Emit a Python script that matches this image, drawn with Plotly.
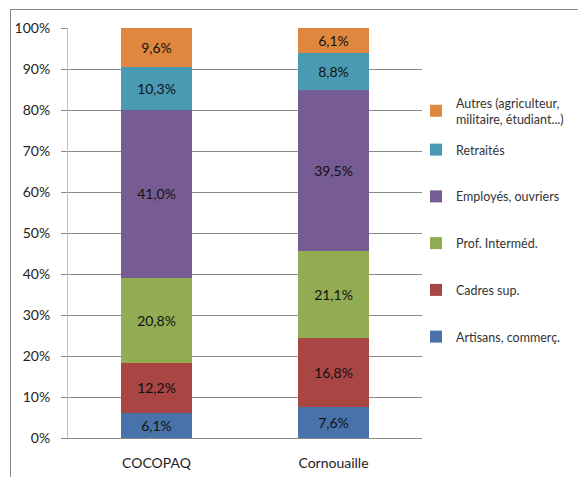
import plotly.graph_objects as go

# Socio-professional breakdown per territory (percent of population)
territories = ["COCOPAQ", "Cornouaille"]
categories = [
    "Artisans, commerç.",
    "Cadres sup.",
    "Prof. Interméd.",
    "Employés, ouvriers",
    "Retraités",
    "Autres (agriculteur,<br>militaire, étudiant...)",
]
cocopaq = [6.1, 12.2, 20.8, 41.0, 10.3, 9.6]
cornouaille = [7.6, 16.8, 21.1, 39.5, 8.8, 6.1]
colors = ["#4773AA", "#A94644", "#91AC53", "#765C92", "#4A9AB3", "#E0873F"]
y_ticks = [0, 10, 20, 30, 40, 50, 60, 70, 80, 90, 100]

FONT = "Lato, 'Open Sans', sans-serif"

fig = go.Figure()
n = len(categories)
for i, name in enumerate(categories):
    vals = [cocopaq[i], cornouaille[i]]
    labels = [f"{v:.1f}%".replace(".", ",") for v in vals]
    fig.add_trace(go.Bar(
        x=territories,
        y=vals,
        name=name,
        legendgroup=str(i),
        legendrank=100 * (n - i),  # top segment listed first
        # the two-line entry gets its own legend box so spacing stays even
        legend="legend" if i == n - 1 else "legend2",
        marker=dict(color=colors[i], line=dict(width=0)),
        text=labels,
        textposition="inside",
        insidetextanchor="middle",
        textangle=0,
        constraintext="none",
        textfont=dict(family=FONT, size=14, color="#111111"),
        hoverinfo="skip",
    ))

W, H = 578, 477
L, R, T, B = 68, 156, 28, 39
pw, ph = W - L - R, H - T - B


def px_x(x):
    return (x - L) / pw


def px_y(y):
    return 1 - (y - T) / ph


legend_style = dict(
    traceorder="grouped",
    x=px_x(416),
    xanchor="left",
    yanchor="top",
    font=dict(family=FONT, size=12.5, color="#333333"),
    bgcolor="rgba(0,0,0,0)",
    valign="middle",
)

fig.update_layout(
    width=W,
    height=H,
    margin=dict(l=L, r=R, t=T, b=B, autoexpand=False),
    paper_bgcolor="white",
    plot_bgcolor="white",
    barmode="stack",
    bargap=0.6,
    font=dict(family=FONT, size=13, color="#333333"),
    showlegend=True,
    legend=dict(legend_style, y=px_y(88)),
    legend2=dict(legend_style, y=px_y(135), tracegroupgap=27.5),
    xaxis=dict(
        automargin=False,
        showline=True,
        linecolor="#8a8a8a",
        linewidth=1,
        ticks="",
        ticklabelstandoff=12,
        tickfont=dict(family=FONT, size=14, color="#222222"),
        showgrid=False,
    ),
    yaxis=dict(
        automargin=False,
        range=[0, 100],
        tickvals=y_ticks,
        ticktext=[f"{v}%" for v in y_ticks],
        showgrid=True,
        gridcolor="#8a8a8a",
        gridwidth=1,
        showline=True,
        linecolor="#c0c0c0",
        linewidth=1,
        ticks="outside",
        ticklen=6,
        tickcolor="#8a8a8a",
        ticklabelstandoff=8,
        tickfont=dict(family=FONT, size=14, color="#222222"),
        zeroline=False,
    ),
    shapes=[
        # chart frame (top and left edges)
        dict(type="line", xref="paper", yref="paper",
             x0=px_x(10), x1=px_x(W + 5), y0=px_y(9.5), y1=px_y(9.5),
             line=dict(color="#8a8a8a", width=1)),
        dict(type="line", xref="paper", yref="paper",
             x0=px_x(10.5), x1=px_x(10.5), y0=px_y(9.5), y1=px_y(H + 5),
             line=dict(color="#8a8a8a", width=1)),
    ],
    annotations=[
        dict(text="<b>2011</b>", xref="paper", yref="paper",
             x=px_x(292), y=px_y(5), xanchor="center", yanchor="bottom",
             showarrow=False, font=dict(family=FONT, size=20, color="#555555")),
    ],
)

fig.write_html("out.html")
